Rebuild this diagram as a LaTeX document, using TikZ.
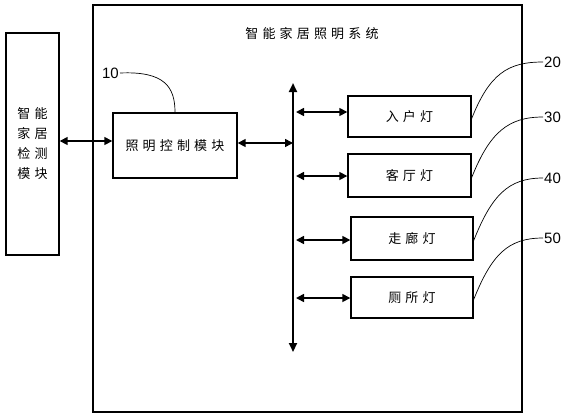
\documentclass[tikz,border=0pt]{standalone}
\usepackage{fontspec}
\setmainfont{Liberation Sans}
\newfontfamily\cjk[LetterSpace=32]{Noto Sans CJK SC}
\usetikzlibrary{positioning, arrows.meta}

\begin{document}
\begin{tikzpicture}[x=1pt, y=-1pt,
    box/.style={rectangle,
        draw=black, % Box edge.
        line width=1.4pt,
        inner sep=0pt,
        font=\fontsize{13pt}{20pt}\selectfont\cjk},
    arrow/.style={{Triangle[length=8pt,width=8pt]}-{Triangle[length=8pt,width=8pt]}, line width=1.6pt},
    bus/.style={{Triangle[length=9pt,width=8pt]}-{Triangle[length=9pt,width=8pt]}, line width=2.2pt},
    leader/.style={line width=0.7pt},
    num/.style={inner sep=1pt, font=\fontsize{15pt}{15pt}\selectfont}]

        \useasboundingbox (0,0) rectangle (565,418);

        % System frame.
        \draw[line width=1.4pt] (93,5) rectangle (522,412);
        \node[font=\fontsize{13pt}{15pt}\selectfont\cjk] (title) at (312,34) {智能家居照明系统};

        % Nodes.
        \node[box, minimum width=53pt, minimum height=222pt, align=center] (detect) at (32.5,144) {智能\\家居\\检测\\模块};
        \node[box, minimum width=124pt, minimum height=65pt] (ctrl) at (175,145.5) {照明控制模块};
        \node[box, minimum width=123pt, minimum height=41pt] (entry) at (409.5,116.5) {入户灯};
        \node[box, minimum width=123pt, minimum height=43pt] (living) at (409.5,175.5) {客厅灯};
        \node[box, minimum width=122pt, minimum height=43pt] (hall) at (412,238.5) {走廊灯};
        \node[box, minimum width=122pt, minimum height=41pt] (toilet) at (412,297.5) {厕所灯};

        % Bus.
        \coordinate (bustop) at (293,83);
        \coordinate (busbot) at (293,352);
        \draw[bus] (bustop) -- (busbot);

        % Taps on the bus.
        \foreach \c/\y in {b1/112, b2/176, b3/240, b4/298}
        \coordinate (\c) at (296,\y);

        % Double arrows.
        \draw[arrow] (detect.east |- 0,141) -- (ctrl.west |- 0,141);
        \draw[arrow] (ctrl.east |- 0,143) -- (bustop |- 0,143);
        \foreach \c/\n in {b1/entry, b2/living, b3/hall, b4/toilet}
        \draw[arrow] (\c) -- (\c -| \n.west);

        % Reference numbers.
        \node[num, anchor=east] (n10) at (120,73) {10};
        \node[num, anchor=west] (n20) at (543,62) {20};
        \node[num, anchor=west] (n30) at (543,117) {30};
        \node[num, anchor=west] (n40) at (543,178) {40};
        \node[num, anchor=west] (n50) at (543,238) {50};

        % Leader lines.
        \draw[leader] (n10.east) .. controls +(45,-2) and +(0,-25) .. (ctrl.north);
        \foreach \i/\j in {entry/n20, living/n30, hall/n40, toilet/n50}
        \draw[leader] ([yshift=-2pt]\i.east) .. controls +(18,-45) and +(-35,0) .. (\j.west);
    \end{tikzpicture}
\end{document}
